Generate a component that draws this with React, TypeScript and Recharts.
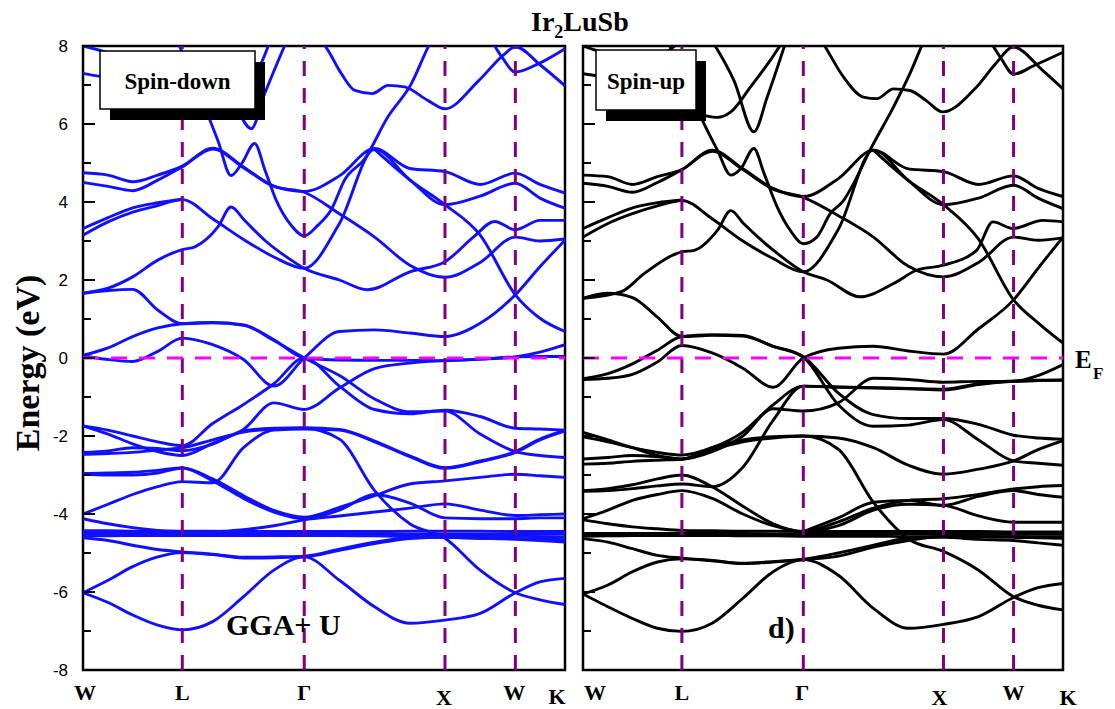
import React from 'react'
import { LineChart, Line, XAxis, YAxis, ReferenceLine, ReferenceArea } from 'recharts'

// k path W-L-Γ-X-W-K as a fraction of total length
const kGrid = [0, 0.052, 0.103, 0.155, 0.206, 0.269, 0.333, 0.396, 0.459, 0.532, 0.605, 0.678, 0.751, 0.824, 0.897, 0.948, 1]
const kSym = [0, 0.206, 0.459, 0.751, 0.897, 1]
const kLabels = ['W', 'L', 'Γ', 'X', 'W', 'K']
const eTicks = [-8, -7, -6, -5, -4, -3, -2, -1, 0, 1, 2, 3, 4, 5, 6, 7, 8]
const _ = null

// ---- spin-down (blue), energies on kGrid ----
const dnB1 = [-6.02, -6.27, -6.59, -6.85, -6.97, -6.76, -6.12, -5.44, -5.1, -5.7, -6.38, -6.8, -6.72, -6.55, -6.02, -5.74, -5.65]
const dnB2 = [-6.02, -5.7, -5.35, -5.1, -4.99, -5.04, -5.13, -5.12, -5.1, -4.93, -4.76, -4.63, -4.6, -4.62, -4.65, -4.68, -4.72]
const dnB3 = [-4.61, -4.68, -4.8, -4.91, -4.97, -5.03, -5.11, -5.1, -5.08, -4.9, -4.72, -4.6, -4.56, -4.56, -4.57, -4.58, -4.6]
const dnF1 = [-4.43, -4.43, -4.44, -4.44, -4.44, -4.44, -4.45, -4.45, -4.45, -4.45, -4.45, -4.44, -4.44, -4.44, -4.45, -4.45, -4.45]
const dnF2 = [-4.5, -4.5, -4.5, -4.5, -4.5, -4.5, -4.5, -4.5, -4.5, -4.5, -4.5, -4.51, -4.51, -4.51, -4.51, -4.52, -4.52]
const dnF3 = [-4.56, -4.56, -4.55, -4.55, -4.55, -4.55, -4.55, -4.55, -4.55, -4.55, -4.56, -4.57, -4.6, -4.62, -4.63, -4.64, -4.66]
const dnSteep = [-2.47, -2.45, -2.42, -2.36, -2.3, -2.1, -1.9, -1.82, -1.8, -2.08, -3.4, -4.25, -4.62, -5.44, -6.02, -6.2, -6.32]
const dnM1 = [-1.74, -1.85, -2.0, -2.15, -2.25, -1.68, -1.19, -0.66, 0, -0.72, -1.32, -1.43, -1.34, -1.5, -1.8, -1.82, -1.85]
const dnM2 = [-1.74, -1.95, -2.2, -2.4, -2.5, -2.19, -1.83, -1.15, -1.32, -0.77, -0.27, -0.13, -0.06, -0.03, 0.03, 0.15, 0.34]
const dnM3 = [-2.42, -2.38, -2.3, -2.32, -2.38, -2.21, -1.87, -1.8, -1.79, -1.83, -2.13, -2.51, -2.81, -2.64, -2.4, -2.08, -1.85]
const dnM4 = [-2.96, -2.95, -2.93, -2.88, -2.82, -3.1, -3.53, -3.91, -4.08, -3.83, -3.53, -3.23, -3.15, -3.06, -2.98, -3.02, -3.06]
const dnM5 = [-4.0, -3.75, -3.5, -3.3, -3.17, -3.2, -2.3, -1.85, -1.82, -1.85, -2.15, -2.53, -2.83, -2.66, -2.42, -2.1, -1.87]
const dnM6 = [-2.98, -3.0, -3.0, -2.95, -2.82, -3.15, -3.6, -3.95, -4.12, -3.9, -3.5, -3.72, -4.1, -4.12, -4.12, -4.1, -4.1]
const dnM7 = [-4.12, -4.25, -4.35, -4.42, -4.45, -4.45, -4.4, -4.3, -4.15, -4.05, -3.95, -3.85, -3.74, -3.9, -4.04, -4.02, -4.0]
const dnZ1 = [0.06, -0.04, -0.09, 0.17, 0.51, 0.34, -0.04, -0.72, 0, 0.68, 0.72, 0.64, 0.55, 0.89, 1.62, 2.34, 3.02]
const dnZ2 = [0.07, 0.26, 0.55, 0.77, 0.88, 0.91, 0.85, 0.47, 0, -0.05, -0.06, -0.06, -0.07, -0.03, 0.03, 0.04, 0.04]
const dnZ3 = [1.66, 1.73, 1.76, 1.23, 0.88, 0.9, 0.84, 0.45, 0, -0.45, -1.05, -1.38, -1.36, -1.95, -2.4, -2.5, -2.55]
const dnZ5 = [3.15, 3.49, 3.74, 3.91, 4.06, 3.57, 3.04, 2.59, 2.3, 3.45, 5.35, 4.57, 3.93, 4.15, 4.48, 4.1, 3.84]
const dnZ6 = [3.32, 3.6, 3.85, 3.98, 4.07, _, _, _, _, _, _, _, _, _, _, _, _]
const dnU1 = [4.75, 4.69, 4.52, 4.69, 4.92, 5.38, 4.9, 4.41, 4.27, 4.67, 5.37, 4.86, 4.78, 4.45, 4.74, 4.45, 4.23]
const dnU2 = [4.5, 4.4, 4.29, 4.56, 4.9, 5.36, 4.88, 4.4, 4.25, 3.7, 3.1, 2.38, 2.07, 2.45, 3.1, 3.0, 3.05]
const dnD1 = [_, _, _, _, _, _, _, _, _, _, 5.35, 4.57, 3.93, 3.15, 1.62, 1.02, 0.68]

// spin-down bands with their own k points: [k, E]
const dnZ4 = [[0, 1.66], [0.052, 1.79], [0.103, 2.08], [0.155, 2.51], [0.206, 2.78], [0.232, 2.85], [0.28, 3.36], [0.307, 3.87], [0.335, 3.53], [0.377, 3.02], [0.432, 2.51], [0.459, 2.3], [0.532, 2.0], [0.59, 1.75], [0.678, 2.21], [0.751, 2.47], [0.81, 3.1], [0.854, 3.5], [0.897, 3.29], [0.948, 3.53], [1, 3.53]]
const dnS1 = [[0.19, 8.3], [0.234, 7.0], [0.28, 5.57], [0.307, 4.68], [0.33, 5.0], [0.356, 5.5], [0.378, 4.8], [0.401, 4.04], [0.432, 3.4], [0.459, 3.13], [0.487, 3.4], [0.515, 3.8], [0.543, 4.57], [0.584, 5.1], [0.633, 6.19], [0.681, 7.03], [0.716, 7.97], [0.73, 8.3]]
const dnV = [[0, 8.0], [0.06, 7.8], [0.13, 7.5], [0.2, 7.1], [0.27, 6.8], [0.315, 6.44], [0.349, 5.88], [0.377, 6.78], [0.425, 8.2]]
const dnW7 = [[0, 7.3], [0.06, 7.2], [0.15, 7.25], [0.25, 7.2], [0.355, 7.35], [0.39, 8.2]]
const dnU6 = [[0.45, 8.5], [0.505, 7.95], [0.536, 7.29], [0.564, 6.86], [0.6, 6.78], [0.633, 6.99], [0.667, 6.95], [0.716, 6.6], [0.751, 6.39], [0.82, 7.1], [0.875, 7.8], [0.897, 7.98], [0.95, 7.5], [1, 6.98]]
const dnU7 = [[0.84, 8.3], [0.87, 7.7], [0.897, 7.33], [0.944, 7.54], [1, 7.93]]

// ---- spin-up (black), energies on kGrid ----
const upB1 = [-6.05, -6.38, -6.68, -6.93, -7.01, -6.8, -6.16, -5.48, -5.17, -5.57, -6.42, -6.93, -6.83, -6.63, -6.14, -5.89, -5.78]
const upB2 = [-6.05, -5.82, -5.48, -5.23, -5.15, -5.2, -5.27, -5.23, -5.17, -5.08, -4.85, -4.68, -4.57, -4.58, -4.6, -4.61, -4.62]
const upB3 = [-4.63, -4.72, -4.89, -5.06, -5.13, -5.19, -5.26, -5.22, -5.16, -5.0, -4.8, -4.62, -4.6, -4.65, -4.68, -4.74, -4.8]
const upF1 = [-4.15, -4.25, -4.33, -4.38, -4.42, -4.43, -4.44, -4.44, -4.45, -4.45, -4.45, -4.45, -4.45, -4.45, -4.46, -4.46, -4.46]
const upF2 = [-4.5, -4.5, -4.5, -4.5, -4.5, -4.5, -4.5, -4.51, -4.51, -4.51, -4.51, -4.51, -4.52, -4.52, -4.52, -4.52, -4.52]
const upF3 = [-4.57, -4.56, -4.55, -4.55, -4.55, -4.55, -4.56, -4.56, -4.57, -4.57, -4.57, -4.58, -4.58, -4.58, -4.58, -4.59, -4.59]
const upSteep = [-2.72, -2.7, -2.65, -2.62, -2.6, -2.3, -2.1, -2.02, -2.0, -2.34, -3.7, -4.64, -4.96, -5.44, -6.12, -6.34, -6.46]
const upM1 = [-1.91, -2.1, -2.3, -2.5, -2.59, -2.4, -2.0, -1.3, -1.36, -1.15, -0.52, -0.55, -0.62, -0.6, -0.6, -0.45, -0.17]
const upM2 = [-2.02, -2.15, -2.3, -2.42, -2.49, -2.3, -1.9, -1.2, -0.72, -0.75, -0.77, -0.79, -0.82, -0.68, -0.6, -0.58, -0.57]
const upM3 = [-2.59, -2.55, -2.5, -2.53, -2.59, -2.35, -2.15, -2.05, -2.0, -2.05, -2.3, -2.75, -2.98, -2.85, -2.64, -2.35, -2.12]
const upM4 = [-3.4, -3.35, -3.25, -3.1, -3.0, -3.3, -3.8, -4.25, -4.45, -4.2, -3.85, -3.65, -3.61, -3.5, -3.36, -3.3, -3.27]
const upM5 = [-3.42, -3.4, -3.35, -3.28, -3.23, -3.3, -2.8, -1.6, -0.72, -0.74, -0.76, -0.78, -0.8, -0.66, -0.59, -0.57, -0.56]
const upM6 = [-4.12, -3.9, -3.65, -3.5, -3.4, -3.6, -4.0, -4.3, -4.45, -4.3, -3.9, -3.75, -3.78, -4.05, -4.21, -4.21, -4.21]
const upM7 = [_, _, _, _, _, _, _, _, -4.45, -4.1, -3.7, -3.65, -3.78, -3.55, -3.4, -3.5, -3.57]
const upZ1 = [-0.53, -0.4, -0.15, 0.2, 0.55, 0.6, 0.58, 0.3, 0.04, -0.9, -1.45, -1.55, -1.55, -1.7, -1.98, -2.05, -2.08]
const upZ2 = [-0.55, -0.52, -0.42, -0.1, 0.32, 0.13, -0.26, -0.75, 0, 0.25, 0.3, 0.18, 0.1, 0.75, 1.49, 2.3, 3.1]
const upZ3 = [1.53, 1.66, 1.55, 1.05, 0.55, 0.58, 0.56, 0.3, 0.02, -1.2, -1.75, -1.72, -1.58, -2.1, -2.64, -2.7, -2.75]
const upZ5 = [3.1, 3.45, 3.7, 3.9, 4.04, 3.57, 3.0, 2.55, 2.21, 3.3, 5.33, 4.55, 3.93, 4.1, 4.43, 4.1, 3.83]
const upZ6 = [3.32, 3.6, 3.85, 3.98, 4.05, _, _, _, _, _, _, _, _, _, _, _, _]
const upU1 = [4.69, 4.65, 4.45, 4.65, 4.83, 5.33, 4.85, 4.35, 4.14, 4.6, 5.33, 4.85, 4.78, 4.45, 4.67, 4.35, 4.14]
const upU2 = [4.48, 4.4, 4.25, 4.5, 4.83, 5.3, 4.83, 4.33, 4.12, 3.65, 3.1, 2.35, 2.08, 2.45, 3.1, 3.02, 3.08]
const upD1 = [_, _, _, _, _, _, _, _, _, _, 5.33, 4.55, 3.93, 3.05, 1.49, 0.9, 0.38]

const upZ4 = [[0, 1.53], [0.08, 1.7], [0.128, 2.17], [0.206, 2.72], [0.232, 2.76], [0.28, 3.27], [0.308, 3.78], [0.335, 3.44], [0.405, 2.68], [0.459, 2.21], [0.508, 2.0], [0.577, 1.57], [0.647, 1.91], [0.695, 2.25], [0.751, 2.38], [0.82, 2.76], [0.854, 3.49], [0.896, 3.32], [0.958, 3.53], [1, 3.49]]
const upS1 = [[0.17, 8.3], [0.21, 7.2], [0.252, 6.01], [0.28, 5.33], [0.308, 4.69], [0.329, 4.86], [0.356, 5.37], [0.377, 4.74], [0.404, 3.89], [0.432, 3.27], [0.459, 2.93], [0.487, 3.1], [0.515, 3.7], [0.543, 4.04], [0.564, 4.48], [0.598, 5.33], [0.647, 6.44], [0.681, 7.29], [0.709, 8.1], [0.72, 8.4]]
const upV = [[0.26, 8.3], [0.273, 8.05], [0.315, 7.1], [0.356, 5.8], [0.384, 6.7], [0.425, 8.2]]
const upW8 = [[0, 8.0], [0.05, 7.8], [0.1, 7.65], [0.15, 7.7], [0.2, 8.1]]
const upW7 = [[0, 7.29], [0.08, 7.1], [0.16, 6.7], [0.23, 6.3], [0.28, 6.17], [0.308, 6.31], [0.349, 6.95], [0.39, 7.63], [0.418, 8.15]]
const upU6 = [[0.47, 8.6], [0.501, 8.05], [0.543, 7.2], [0.584, 6.69], [0.612, 6.65], [0.647, 6.9], [0.681, 6.86], [0.715, 6.6], [0.749, 6.31], [0.82, 6.95], [0.86, 7.55], [0.896, 7.97], [0.958, 7.37], [1, 6.9]]
const upU7 = [[0.84, 8.3], [0.87, 7.7], [0.897, 7.28], [0.94, 7.5], [1, 7.84]]

const dnGrid = [dnB1, dnB2, dnB3, dnF1, dnF2, dnF3, dnSteep, dnM1, dnM2, dnM3, dnM4, dnM5, dnM6, dnM7, dnZ1, dnZ2, dnZ3, dnZ5, dnZ6, dnU1, dnU2, dnD1]
const dnPairs = [dnZ4, dnS1, dnV, dnW7, dnU6, dnU7]
const upGrid = [upB1, upB2, upB3, upF1, upF2, upF3, upSteep, upM1, upM2, upM3, upM4, upM5, upM6, upM7, upZ1, upZ2, upZ3, upZ5, upZ6, upU1, upU2, upD1]
const upPairs = [upZ4, upS1, upV, upW8, upW7, upU6, upU7]

const SERIF = '"Liberation Serif", "Times New Roman", serif'
const SANS = '"Liberation Sans", Arial, sans-serif'

const fromGrid = (vals: (number | null)[]) =>
  vals.map((e, i) => (e == null ? null : { k: kGrid[i], e })).filter(Boolean) as { k: number; e: number }[]
const fromPairs = (p: number[][]) => p.map(([k, e]) => ({ k, e }))

const YTick = ({ x, y, payload, showLabel }: any) => {
  const v = payload.value
  const major = v % 2 === 0
  return (
    <g>
      <line x1={x} x2={x + (major ? 12 : 8)} y1={y} y2={y} stroke="#000" strokeWidth={2} />
      {showLabel && major && (
        <text x={x - 15} y={y} dy={6} textAnchor="end" fontFamily={SANS} fontSize={17} fill="#000">{v}</text>
      )}
    </g>
  )
}

const XTick = ({ x, y, index, offsets }: any) => {
  const [dx, dy] = offsets[index] || [0, 0]
  return (
    <text x={x + dx} y={y + 30 + dy} textAnchor="middle" fontFamily={SERIF} fontWeight="bold" fontSize={22} fill="#000">
      {kLabels[index]}
    </text>
  )
}

function BandPanel({ grid, pairs, color, width, marginRight, axisWidth, showYLabels, offsets }: any) {
  const bands = [...grid.map(fromGrid), ...pairs.map(fromPairs)]
  return (
    <LineChart width={width} height={709} margin={{ top: 46, right: marginRight, left: 0, bottom: 0 }}>
      <XAxis dataKey="k" type="number" domain={[0, 1]} ticks={kSym} interval={0} height={39}
        axisLine={false} tickLine={false} tickSize={0} tickMargin={0} allowDataOverflow
        tick={(p: any) => <XTick {...p} offsets={offsets} />} />
      <YAxis type="number" domain={[-8, 8]} ticks={eTicks} interval={0} width={axisWidth}
        axisLine={false} tickLine={false} tickSize={0} tickMargin={0} allowDataOverflow
        tick={(p: any) => <YTick {...p} showLabel={showYLabels} />} />
      {bands.map((d: any, i: number) => (
        <Line key={i} data={d} dataKey="e" type="monotone" stroke={color} strokeWidth={2.9}
          dot={false} activeDot={false} isAnimationActive={false} />
      ))}
      {kSym.slice(1, 5).map(k => (
        <ReferenceLine key={k} x={k} stroke="#800080" strokeWidth={3} strokeDasharray="15 12" />
      ))}
      <ReferenceLine y={0} stroke="#ff00ff" strokeWidth={3} strokeDasharray="16 12" />
      <ReferenceArea x1={0} x2={1} y1={-8} y2={8} fill="none" stroke="#000" strokeWidth={2.5} />
    </LineChart>
  )
}

function SpinBox({ x, y, w, h, label }: any) {
  return (
    <g>
      <rect x={x + 10} y={y + 11} width={w} height={h} fill="#000" />
      <rect x={x} y={y} width={w} height={h} fill="#fff" stroke="#000" strokeWidth={1.5} />
      <text x={x + w / 2} y={y + h / 2 + 9} textAnchor="middle" fontFamily={SERIF} fontWeight="bold" fontSize={23}>{label}</text>
    </g>
  )
}

export default function App() {
  return (
    <div style={{ position: 'absolute', left: 0, top: 0, width: 1115, height: 709, background: '#fff' }}>
      <div style={{ position: 'absolute', left: 0, top: 0 }}>
        <BandPanel grid={dnGrid} pairs={dnPairs} color="#1010ff" width={575} marginRight={10} axisWidth={83}
          showYLabels offsets={[[2, 0], [0, 0], [0, 0], [-1, 5], [-1, 0], [-8, 4]]} />
      </div>
      <div style={{ position: 'absolute', left: 573, top: 0 }}>
        <BandPanel grid={upGrid} pairs={upPairs} color="#000" width={542} marginRight={52} axisWidth={10}
          showYLabels={false} offsets={[[12, 0], [0, 0], [-1, 0], [-4, 5], [0, 0], [5, 5]]} />
      </div>
      <svg width={1115} height={709} style={{ position: 'absolute', left: 0, top: 0, pointerEvents: 'none' }}>
        <text x={531} y={31} fontFamily={SERIF} fontWeight="bold" fontSize={28}>
          Ir<tspan fontSize={18} dy={7}>2</tspan><tspan dy={-7}>LuSb</tspan>
        </text>
        <text transform="translate(39,363) rotate(-90)" textAnchor="middle" fontFamily={SERIF} fontWeight="bold" fontSize={34}>Energy (eV)</text>
        <text x={1075} y={368} fontFamily={SERIF} fontWeight="bold" fontSize={25}>E</text>
        <text x={1093} y={379} fontFamily={SERIF} fontWeight="bold" fontSize={17}>F</text>
        <text x={226} y={635} fontFamily={SERIF} fontWeight="bold" fontSize={30}>GGA+ U</text>
        <text x={768} y={638} fontFamily={SERIF} fontWeight="bold" fontSize={30}>d)</text>
        <SpinBox x={100} y={51} w={155} h={58} label="Spin-down" />
        <SpinBox x={596} y={50} w={100} h={60} label="Spin-up" />
      </svg>
    </div>
  )
}
